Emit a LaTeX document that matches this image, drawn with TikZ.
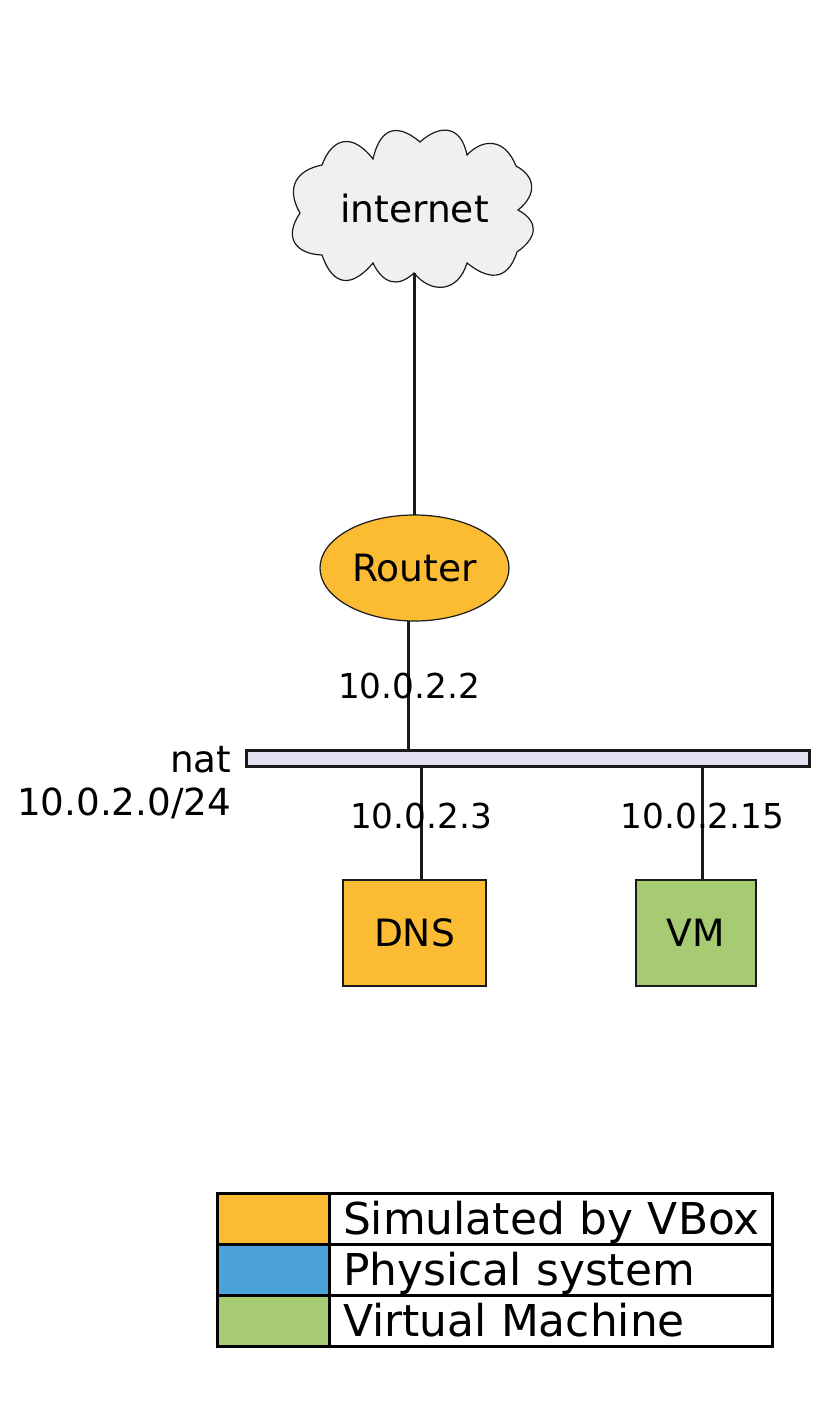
\documentclass[tikz,border=0pt]{standalone}
\usepackage{fontspec}
\setmainfont{DejaVu Sans}
\usepackage{xcolor}
\usetikzlibrary{positioning,calc,shapes.geometric}
\definecolor{VBoxOrange}{RGB}{251,187,51}
\definecolor{PhysBlue}{RGB}{75,163,216}
\definecolor{VmGreen}{RGB}{166,203,114}
\definecolor{CloudGray}{RGB}{240,240,240}
\definecolor{BarLilac}{RGB}{225,225,239}
\definecolor{LineDark}{RGB}{26,26,26}
\newcommand{\fsize}[1]{\fontsize{#1}{#1}\selectfont}

\begin{document}
\begin{tikzpicture}[
  x=1pt, y=-1pt,
  thinedge/.style={draw=LineDark, line width=1.2pt},
  host/.style={rectangle, thinedge, inner sep=0pt, outer sep=0pt, minimum height=106pt, font=\fsize{37.6}},
  link/.style={draw=LineDark, line width=3pt},
  addr/.style={font=\fsize{34.3}, inner sep=0pt},
  swatch/.style={rectangle, draw=black, line width=3pt, outer sep=0pt, minimum width=112pt, minimum height=51pt, inner sep=0pt},
  legendtext/.style={rectangle, draw=black, line width=3pt, outer sep=0pt, minimum width=443pt, minimum height=51pt, inner sep=0pt, text width=415pt, text height=36pt, text depth=5pt, font=\fsize{43.9}}
]
  \useasboundingbox (0,0) rectangle (831,1412);

  % Cloud outline
  \draw[thinedge, fill=CloudGray]
    (322,165) .. controls (332,138) and (352,132) .. (373,159)
    .. controls (381,124) and (400,125) .. (420,142)
    .. controls (440,124) and (461,125) .. (467,155)
    .. controls (483,138) and (505,138) .. (516,166)
    .. controls (535,176) and (538,194) .. (518,210)
    .. controls (540,222) and (537,238) .. (517,252)
    .. controls (507,283) and (487,279) .. (467,263)
    .. controls (458,293) and (431,294) .. (414,273)
    .. controls (398,288) and (383,284) .. (373,263)
    .. controls (352,288) and (333,287) .. (322,255)
    .. controls (296,254) and (283,238) .. (300,213)
    .. controls (285,187) and (297,170) .. (322,165) -- cycle;

  % Nodes
  \node[minimum width=240pt, minimum height=129pt, inner sep=0pt, outer sep=0pt, font=\fsize{37.6}] (internet) at (414.5,208.5) {internet};
  \node[ellipse, thinedge, fill=VBoxOrange, minimum width=189pt, minimum height=106pt, inner sep=0pt, outer sep=0pt, font=\fsize{37.6}] (router) at (414.5,568) {Router};
  \node[rectangle, draw=LineDark, line width=3pt, fill=BarLilac, minimum width=563pt, minimum height=16pt, inner sep=0pt, outer sep=0pt] (bar) at (527.5,758) {};
  \node[host, fill=VBoxOrange, minimum width=143pt] (dns) at (414.5,933) {DNS};
  \node[host, fill=VmGreen, minimum width=120pt] (vm) at (696,933) {VM};

  % Links
  \coordinate (barRouter) at (408,750);
  \coordinate (barDns) at (421,767);
  \coordinate (barVm) at (702,767);
  \draw[link] (internet.south) -- (router.north);
  \draw[link] (barRouter |- router.south) -- (barRouter);
  \draw[link] (barDns) -- (barDns |- dns.north);
  \draw[link] (barVm) -- (barVm |- vm.north);

  % Addresses
  \node[addr] (addrRouter) at (409,686) {10.0.2.2};
  \node[addr] (addrDns) at (421,816) {10.0.2.3};
  \node[addr] (addrVm) at (702.5,816) {10.0.2.15};
  \node[anchor=north east, inner sep=0pt, align=right, font=\fsize{37.3}] (natname) at (231.5,746) {nat\\[5.5pt]10.0.2.0/24};

  % Legend
  \node[swatch, fill=VBoxOrange] (keyVbox) at (273,1219) {};
  \node[swatch, fill=PhysBlue, below=0pt of keyVbox] (keyPhys) {};
  \node[swatch, fill=VmGreen, below=0pt of keyPhys] (keyVm) {};
  \node[legendtext, right=0pt of keyVbox] (textVbox) {\mbox{Simulated by VBox}};
  \node[legendtext, right=0pt of keyPhys] (textPhys) {Physical system};
  \node[legendtext, right=0pt of keyVm] (textVm) {Virtual Machine};
\end{tikzpicture}
\end{document}
